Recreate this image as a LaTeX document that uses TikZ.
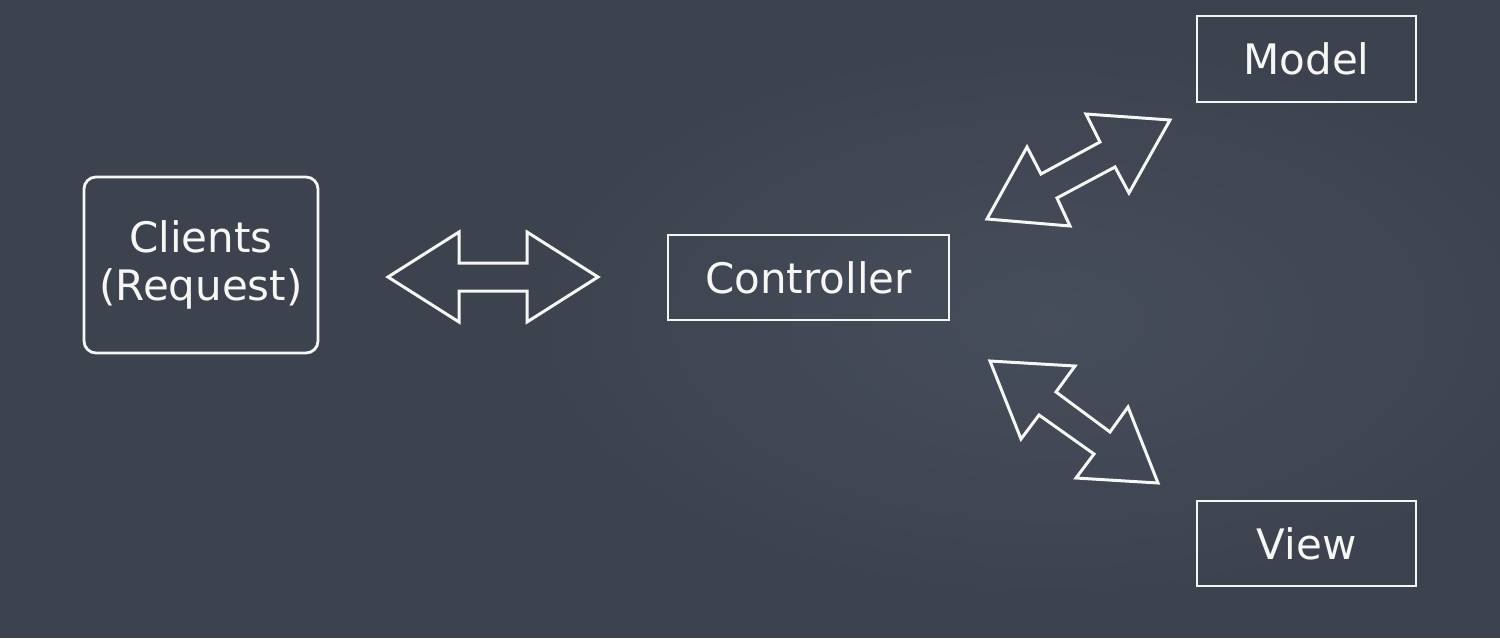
\documentclass[tikz,border=0pt]{standalone}
\usepackage{fontspec}
\setmainfont{DejaVu Sans}
\definecolor{board}{RGB}{60,66,78}
\definecolor{boardlight}{RGB}{74,81,94}
\definecolor{chalk}{RGB}{246,246,244}
\begin{document}
\begin{tikzpicture}[x=1pt,y=-1pt,
  box/.style={draw=chalk,line width=2.8pt,text=chalk,inner sep=0pt,
    font=\fontsize{42}{48}\selectfont,align=center},
  bigarrow/.style={draw=chalk,line width=3pt,line join=miter}]
\useasboundingbox (0,0) rectangle (1500,638);
\fill[board] (0,0) rectangle (1500,638);
\shade[inner color=boardlight,outer color=board,opacity=0.8] (1050,320) ellipse (560 and 300);
% boxes
\node[box,rounded corners=12pt,minimum width=234pt,minimum height=176pt] (clients) at (201,265) {Clients\\(Request)};
\node[box,minimum width=281pt,minimum height=85pt] (controller) at (808.5,277.5) {Controller};
\node[box,minimum width=219pt,minimum height=86pt] (model) at (1306.5,59) {Model};
\node[box,minimum width=219pt,minimum height=85pt] (view) at (1306.5,543.5) {View};
% double arrows
\draw[bigarrow] (388,277) -- (459,232) -- (459,263) -- (527,263) -- (527,232) -- (598,277)
  -- (527,322) -- (527,291) -- (459,291) -- (459,322) -- cycle;
\draw[bigarrow] (987,219) -- (1027,147) -- (1041,174) -- (1100,142) -- (1086,114) -- (1170,120)
  -- (1129,193) -- (1115,167) -- (1057,198) -- (1070,226) -- cycle;
\draw[bigarrow] (990,361) -- (1075,366) -- (1056,392) -- (1110,432) -- (1128,407) -- (1158,483)
  -- (1076,478) -- (1094,454) -- (1039,415) -- (1021,439) -- cycle;
\end{tikzpicture}
\end{document}
